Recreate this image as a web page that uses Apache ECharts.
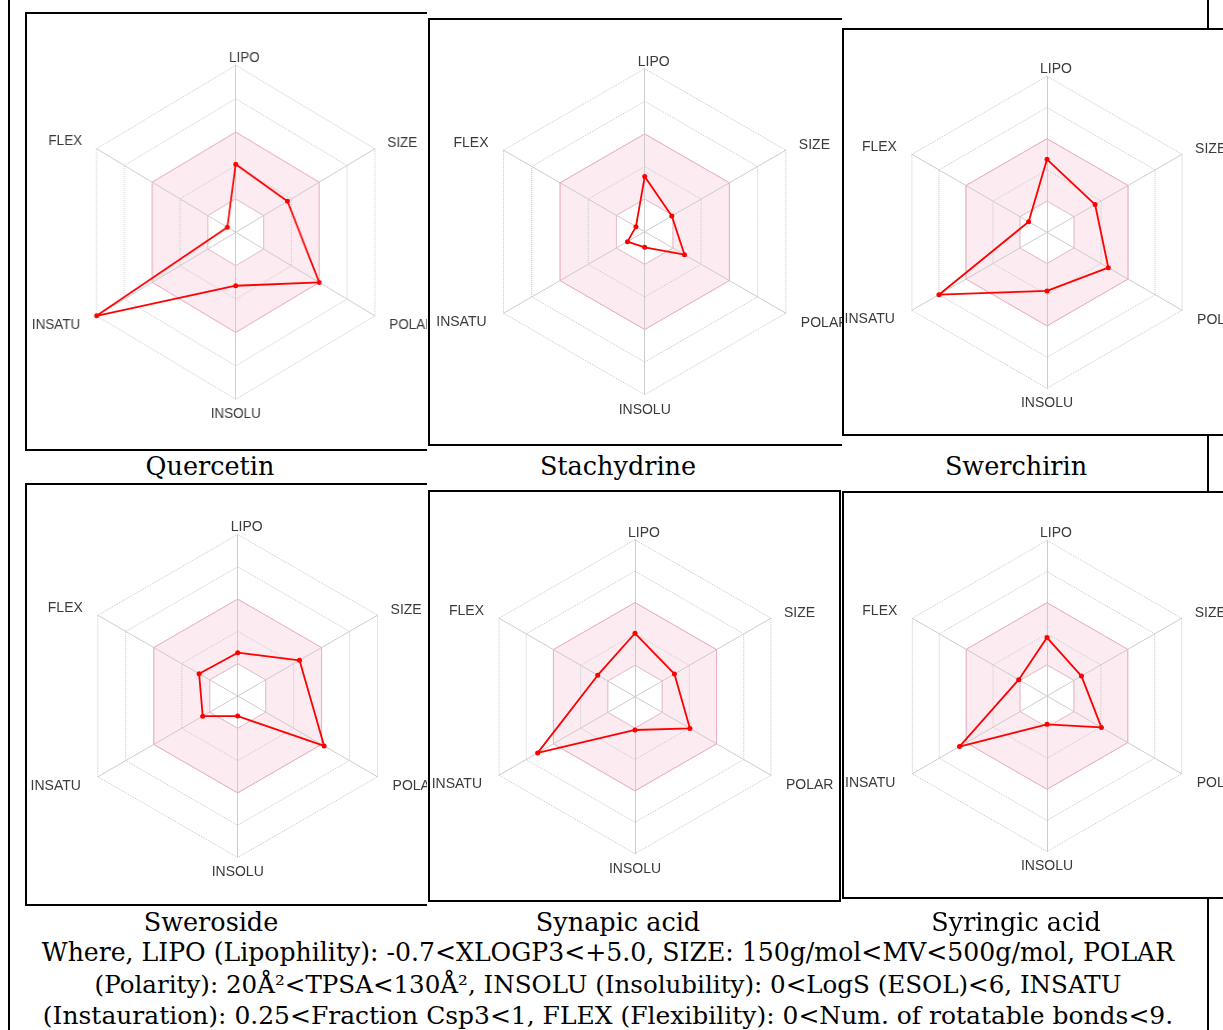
<!DOCTYPE html>
<html>
<head>
<meta charset="utf-8">
<script src="https://cdn.jsdelivr.net/npm/echarts@6/dist/echarts.min.js"></script>
<style>
html,body{margin:0;padding:0;background:#fff;}
body{width:1223px;height:1030px;position:relative;overflow:hidden;}
.vline{position:absolute;top:0;width:2px;height:1030px;background:#000;}
.panel{position:absolute;overflow:hidden;background:#fff;}
.frame{position:absolute;left:0;top:0;right:0;bottom:0;box-sizing:border-box;border:2px solid #000;pointer-events:none;}
.chart{position:absolute;top:0;}
.cap{position:absolute;font-family:"DejaVu Serif",serif;font-size:25.5px;color:#000;white-space:nowrap;transform:translateX(-50%);line-height:30px;}
.foot{position:absolute;left:608px;font-family:"DejaVu Serif",serif;font-size:23px;color:#000;white-space:nowrap;transform:translateX(-50%);line-height:30px;}
</style>
</head>
<body>
<div class="vline" style="left:8px"></div>
<div class="vline" style="left:1207px"></div>
<div id="panels"></div>
<div class="foot" id="f1" style="top:938px">Where, LIPO (Lipophility): -0.7&lt;XLOGP3&lt;+5.0, SIZE: 150g/mol&lt;MV&lt;500g/mol, POLAR</div>
<div class="foot" id="f2" style="top:970px">(Polarity): 20Å²&lt;TPSA&lt;130Å², INSOLU (Insolubility): 0&lt;LogS (ESOL)&lt;6, INSATU</div>
<div class="foot" id="f3" style="top:1001px">(Instauration): 0.25&lt;Fraction Csp3&lt;1, FLEX (Flexibility): 0&lt;Num. of rotatable bonds&lt;9.</div>
<script>
// ---- data ----
const axisNames = ['LIPO', 'SIZE', 'POLAR', 'INSOLU', 'INSATU', 'FLEX'];
const compounds = ['Quercetin', 'Stachydrine', 'Swerchirin', 'Sweroside', 'Synapic acid', 'Syringic acid'];
const scaleMax = 5;          // 5 rings
const optimalBand = [1, 3];  // pink zone between ring 1 and ring 3
const quercetin    = [2.04, 1.86, 3.00, 1.60, 5.00, 0.30];
const stachydrine  = [1.69, 0.96, 1.41, 0.48, 0.61, 0.31];
const swerchirin   = [2.34, 1.78, 2.27, 1.88, 4.00, 0.68];
const sweroside    = [1.34, 2.21, 3.09, 0.62, 1.25, 1.38];
const synapicAcid  = [2.02, 1.45, 2.02, 1.06, 3.58, 1.37];
const syringicAcid = [1.88, 1.28, 2.02, 0.91, 3.25, 1.05];
const seriesValues = [quercetin, stachydrine, swerchirin, sweroside, synapicAcid, syringicAcid];

// ---- layout (positions/sizes only) ----
const layout = [
  {x:25,  y:12,  w:402, h:439, cx:210.7, cy:220.3, r:167,   sx:0.962, right:false, capX:210,  capY:451},
  {x:428, y:18,  w:414, h:428, cx:216.7, cy:213.7, r:163,   sx:1,     right:false, capX:618,  capY:451},
  {x:842, y:28,  w:400, h:408, cx:205,   cy:204.3, r:156,   sx:1,     right:false, capX:1016, capY:451},
  {x:25,  y:483, w:402, h:423, cx:212.7, cy:213,   r:161.5, sx:1,     right:false, capX:211,  capY:907},
  {x:428, y:490, w:413, h:412, cx:207,   cy:206.7, r:157,   sx:1,     right:true,  capX:618,  capY:907},
  {x:842, y:491, w:400, h:408, cx:205,   cy:205,   r:155.5, sx:1,     right:false, capX:1016, capY:907}
];
const PAD = 40;

// ECharts radar goes counter-clockwise from the top
const order = [0, 5, 4, 3, 2, 1];
const ringCount = scaleMax;
const areaColors = [], bandLineColors = [];
for (let j = 0; j < ringCount; j++) {
  // band j lies between ring j and ring j+1
  areaColors.push(j >= optimalBand[0] && j < optimalBand[1] ? '#fcebf0' : 'rgba(255,255,255,0)');
}
for (let i = 0; i <= ringCount; i++) {
  bandLineColors.push(i === optimalBand[0] ? '#ecbfc9' : (i === optimalBand[1] ? '#f0aebd' : 'rgba(0,0,0,0)'));
}
const nameFont = {color:'#3a3a3a', fontFamily:'Liberation Sans', fontSize:14};
const rich = {
  LIPO:   Object.assign({padding:[0,0,0,18]}, nameFont),
  SIZE:   Object.assign({padding:[0,0,11,13]}, nameFont),
  POLAR:  Object.assign({padding:[19,0,0,15]}, nameFont),
  INSOLU: Object.assign({padding:[8,0,0,0]}, nameFont),
  INSATU: Object.assign({padding:[18,17,0,0]}, nameFont),
  FLEX:   Object.assign({padding:[0,15,15,0]}, nameFont)
};

const host = document.getElementById('panels');
layout.forEach((L, k) => {
  const p = document.createElement('div');
  p.className = 'panel';
  p.style.cssText = `left:${L.x}px;top:${L.y}px;width:${L.w}px;height:${L.h}px;`;
  const c = document.createElement('div');
  c.className = 'chart';
  const cx = L.cx + PAD;
  c.style.cssText = `left:${-PAD}px;width:${L.w + 2 * PAD}px;height:${L.h}px;transform-origin:${cx}px 0;transform:scaleX(${L.sx});`;
  p.appendChild(c);
  const f = document.createElement('div');
  f.className = 'frame';
  if (!L.right) f.style.borderRight = 'none';
  p.appendChild(f);
  host.appendChild(p);

  const cap = document.createElement('div');
  cap.className = 'cap';
  cap.style.left = L.capX + 'px';
  cap.style.top = L.capY + 'px';
  cap.textContent = compounds[k];
  document.body.appendChild(cap);

  const indicator = order.map(i => ({name: axisNames[i], min: 0, max: scaleMax}));
  const chart = echarts.init(c, null, {renderer: 'canvas'});
  chart.setOption({
    animation: false,
    radar: [{
      z: 0,
      center: [cx, L.cy],
      radius: L.r,
      startAngle: 90,
      splitNumber: ringCount,
      shape: 'polygon',
      indicator: indicator,
      axisNameGap: 0,
      axisName: Object.assign({
        formatter: (name) => '{' + name + '|' + name + '}',
        rich: rich
      }, nameFont),
      axisLine: {lineStyle: {color: '#cccccc', width: 1}},
      splitLine: {lineStyle: {color: '#c6c6c6', type: 'dotted', width: 1}},
      splitArea: {show: true, areaStyle: {color: areaColors}}
    }, {
      z: 1,
      center: [cx, L.cy],
      radius: L.r,
      startAngle: 90,
      splitNumber: ringCount,
      shape: 'polygon',
      indicator: indicator,
      axisName: {show: false},
      axisLine: {show: false},
      splitLine: {lineStyle: {color: bandLineColors, width: 1}},
      splitArea: {show: false}
    }],
    series: [{
      type: 'radar',
      radarIndex: 0,
      z: 5,
      silent: true,
      symbol: 'circle',
      symbolSize: 5,
      itemStyle: {color: '#ff0000'},
      lineStyle: {color: '#ff0000', width: 1.8},
      data: [{name: compounds[k], value: order.map(i => seriesValues[k][i])}]
    }]
  });
});

// fit footer lines to the widths measured on the reference
const targets = {f1: 1133, f2: 1027, f3: 1131};
Object.keys(targets).forEach(id => {
  const el = document.getElementById(id);
  const w = el.getBoundingClientRect().width;
  el.style.fontSize = (23 * targets[id] / w).toFixed(2) + 'px';
});
</script>
</body>
</html>
